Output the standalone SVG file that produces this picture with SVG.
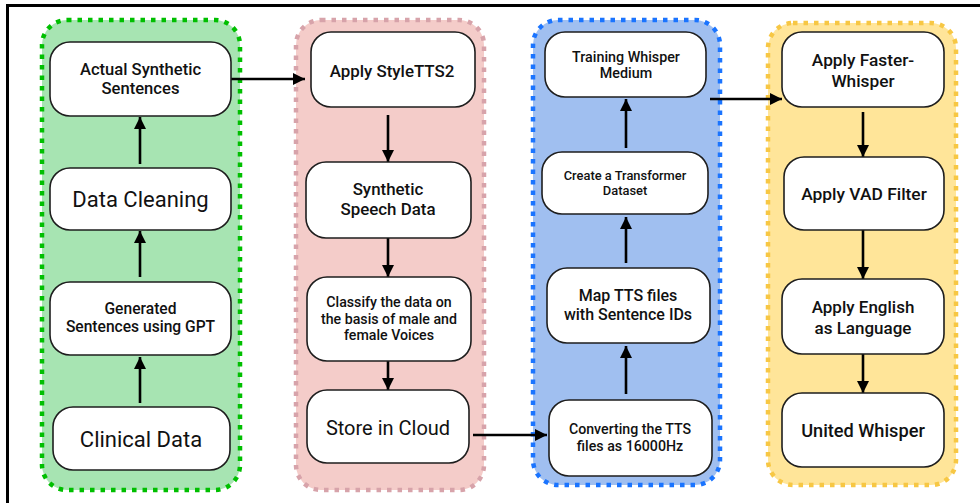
<svg xmlns="http://www.w3.org/2000/svg" width="980" height="503" viewBox="0 0 980 503">
<style>
.node rect{fill:#fff;stroke:#1e1e1e;stroke-width:1.6}
.b{font-family:Roboto,"Liberation Sans",sans-serif;font-weight:500;font-size:15.6px;fill:#111;text-anchor:middle}
.r{font-family:Roboto,"Liberation Sans",sans-serif;font-weight:400;font-size:22px;fill:#111;text-anchor:middle}
.grp{stroke-width:4.5;stroke-dasharray:4.5 6}
#conn line{stroke:#000;stroke-width:2.6;marker-end:url(#ah)}
</style>
<defs>
<marker id="ah" viewBox="0 0 12 12" refX="12" refY="6" markerWidth="12" markerHeight="12" markerUnits="userSpaceOnUse" orient="auto">
<path d="M0,0 L12,6 L0,12 z" fill="#000"/>
</marker>
</defs>
<rect x="0" y="0" width="980" height="503" fill="#fff"/>
<rect x="7.5" y="5.5" width="1000" height="530" fill="none" stroke="#000" stroke-width="3"/>

<g id="containers">
<rect class="grp" x="42" y="20" width="198" height="470" rx="25" fill="#a7e4b2" stroke="#00bf00"/>
<rect class="grp" x="296" y="20" width="188" height="470" rx="25" fill="#f4ccc9" stroke="#d7a3aa"/>
<rect class="grp" x="533" y="20" width="187" height="465" rx="25" fill="#a0bff0" stroke="#1a74ff"/>
<rect class="grp" x="768" y="23" width="188" height="462" rx="25" fill="#ffe599" stroke="#f7c744"/>
</g>

<g id="conn">
<line x1="140" y1="403" x2="140" y2="357"/>
<line x1="140" y1="277" x2="140" y2="231"/>
<line x1="140" y1="164" x2="140" y2="117"/>
<line x1="224" y1="79" x2="305" y2="79"/>
<line x1="388" y1="115" x2="388" y2="162"/>
<line x1="388" y1="238" x2="388" y2="277"/>
<line x1="388" y1="361" x2="388" y2="390"/>
<line x1="473" y1="435" x2="547" y2="435"/>
<line x1="626" y1="394" x2="626" y2="346"/>
<line x1="626" y1="263" x2="626" y2="217"/>
<line x1="626" y1="148" x2="626" y2="99"/>
<line x1="710" y1="99" x2="782" y2="99"/>
<line x1="863" y1="112" x2="863" y2="157"/>
<line x1="863" y1="230" x2="863" y2="279"/>
<line x1="863" y1="354" x2="863" y2="393"/>
</g>

<g id="n-actual" class="node"><rect x="50" y="42" width="181" height="74" rx="20"/>
<text class="b" x="140.5" y="75" style="font-size:16.6px">Actual Synthetic</text><text class="b" x="140.5" y="94" style="font-size:16.6px">Sentences</text></g>
<g id="n-cleaning" class="node"><rect x="50" y="168" width="181" height="62" rx="20"/>
<text class="r" x="140.5" y="207">Data Cleaning</text></g>
<g id="n-generated" class="node"><rect x="50" y="282" width="181" height="73" rx="20"/>
<text class="b" x="140.5" y="314">Generated</text><text class="b" x="140.5" y="332">Sentences using GPT</text></g>
<g id="n-clinical" class="node"><rect x="53" y="407" width="177" height="63" rx="20"/>
<text class="r" x="141" y="447">Clinical Data</text></g>

<g id="n-styletts" class="node"><rect x="311" y="32" width="164" height="75" rx="20"/>
<text class="b" x="392" y="77" style="font-size:16.9px">Apply StyleTTS2</text></g>
<g id="n-speech" class="node"><rect x="306" y="162" width="165" height="76" rx="20"/>
<text class="b" x="388" y="195" style="font-size:16.9px">Synthetic</text><text class="b" x="388" y="215" style="font-size:16.9px">Speech Data</text></g>
<g id="n-classify" class="node"><rect x="307" y="277" width="164" height="84" rx="20"/>
<text class="b" x="389" y="307" style="font-size:14.2px">Classify the data on</text><text class="b" x="389" y="323.5" style="font-size:14.2px">the basis of male and</text><text class="b" x="389" y="340" style="font-size:14.2px">female Voices</text></g>
<g id="n-cloud" class="node"><rect x="307" y="390" width="162" height="73" rx="20"/>
<text class="r" x="388" y="435" style="font-size:20px">Store in Cloud</text></g>

<g id="n-training" class="node"><rect x="545" y="32" width="161" height="65" rx="20"/>
<text class="b" x="626" y="62" style="font-size:14.3px">Training Whisper</text><text class="b" x="626" y="78" style="font-size:14.3px">Medium</text></g>
<g id="n-transformer" class="node"><rect x="542" y="152" width="166" height="62" rx="20"/>
<text class="b" x="625" y="180" style="font-size:12.9px">Create a Transformer</text><text class="b" x="625" y="195" style="font-size:12.9px">Dataset</text></g>
<g id="n-map" class="node"><rect x="547" y="268" width="163" height="75" rx="20"/>
<text class="b" x="628" y="301" style="font-size:16px">Map TTS files</text><text class="b" x="628" y="320" style="font-size:16px">with Sentence IDs</text></g>
<g id="n-converting" class="node"><rect x="549" y="400" width="163" height="76" rx="20"/>
<text class="b" x="630" y="434" style="font-size:14.2px">Converting the TTS</text><text class="b" x="630" y="451" style="font-size:14.2px">files as 16000Hz</text></g>

<g id="n-faster" class="node"><rect x="782" y="32" width="162" height="75" rx="20"/>
<text class="b" x="863" y="66" style="font-size:17.3px">Apply Faster-</text><text class="b" x="863" y="87" style="font-size:17.3px">Whisper</text></g>
<g id="n-vad" class="node"><rect x="784" y="157" width="160" height="73" rx="20"/>
<text class="b" x="864" y="200" style="font-size:17.4px">Apply VAD Filter</text></g>
<g id="n-english" class="node"><rect x="782" y="279" width="162" height="75" rx="20"/>
<text class="b" x="863" y="313" style="font-size:17px">Apply English</text><text class="b" x="863" y="334" style="font-size:17px">as Language</text></g>
<g id="n-united" class="node"><rect x="782" y="393" width="162" height="74" rx="20"/>
<text class="b" x="863" y="437" style="font-size:18.2px">United Whisper</text></g>
</svg>
